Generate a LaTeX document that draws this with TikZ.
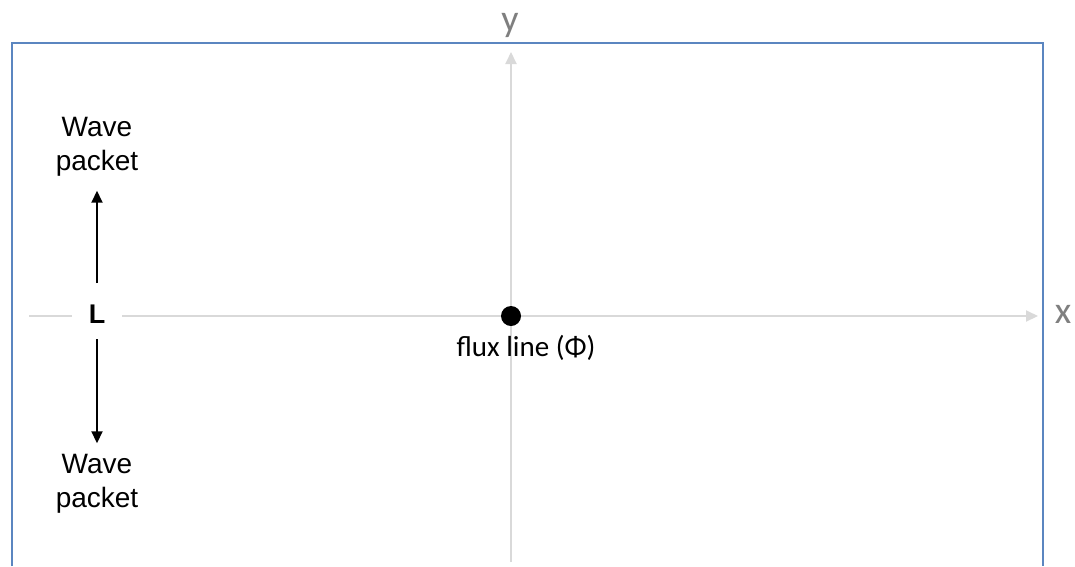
\documentclass[tikz,border=0pt]{standalone}
\usepackage{fontspec}
\setmainfont{Liberation Sans}
\newfontfamily\calfont{Carlito}
\usetikzlibrary{arrows.meta}
\definecolor{boxblue}{HTML}{5B86C0}
\definecolor{axisgray}{HTML}{D9D9D9}
\definecolor{labelgray}{HTML}{7F7F7F}
\tikzset{
  frame/.style={draw=boxblue, line width=2pt},
  axis/.style={draw=axisgray, line width=2pt},
  axisarrow/.style={axis, -{Triangle[length=12pt,width=11pt]}},
  blackarrow/.style={draw=black, line width=2pt, -{Triangle[length=12pt,width=11pt]}},
  wavetext/.style={align=center, font=\fontsize{28}{34}\selectfont, inner sep=0pt},
  axislabel/.style={text=labelgray, font=\calfont\fontsize{38}{40}\selectfont, inner sep=0pt},
}
\begin{document}
\begin{tikzpicture}[x=1pt,y=-1pt]
\useasboundingbox (0,0) rectangle (1075,566);
\fill[white] (0,0) rectangle (1075,566);
% frame (open at the bottom)
\draw[frame] (12,566) -- (12,43) -- (1043,43) -- (1043,566);
% axes
\coordinate (xstart) at (29,316);
\coordinate (xend) at (1038,316);
\coordinate (ystart) at (511,562);
\coordinate (yend) at (511,52);
\node[font=\bfseries\fontsize{27}{30}\selectfont, minimum width=50pt, inner sep=0pt] (L) at (97,314) {L};
\draw[axis] (xstart) -- (xstart -| L.west);
\draw[axisarrow] (xend -| L.east) -- (xend);
\draw[axisarrow] (ystart) -- (yend);
\node[axislabel] (xlab) at (1063,314) {x};
\node[axislabel] (ylab) at (510,25) {y};
% flux line
\node[circle, fill=black, minimum size=20pt, inner sep=0pt] (flux) at (511,316) {};
\node[font=\calfont\fontsize{29}{32}\selectfont, inner sep=0pt] (fluxlab) at (526,348) {flux line (Φ)};
% wave packets
\node[wavetext] (wp1) at (97,147) {Wave\\packet};
\node[wavetext] (wp2) at (97,484) {Wave\\packet};
\coordinate (a1) at (97,283);
\coordinate (a2) at (97,339);
\draw[blackarrow] (a1) -- ([yshift=-14pt]wp1.south);
\draw[blackarrow] (a2) -- ([yshift=11pt]wp2.north);
\end{tikzpicture}
\end{document}
